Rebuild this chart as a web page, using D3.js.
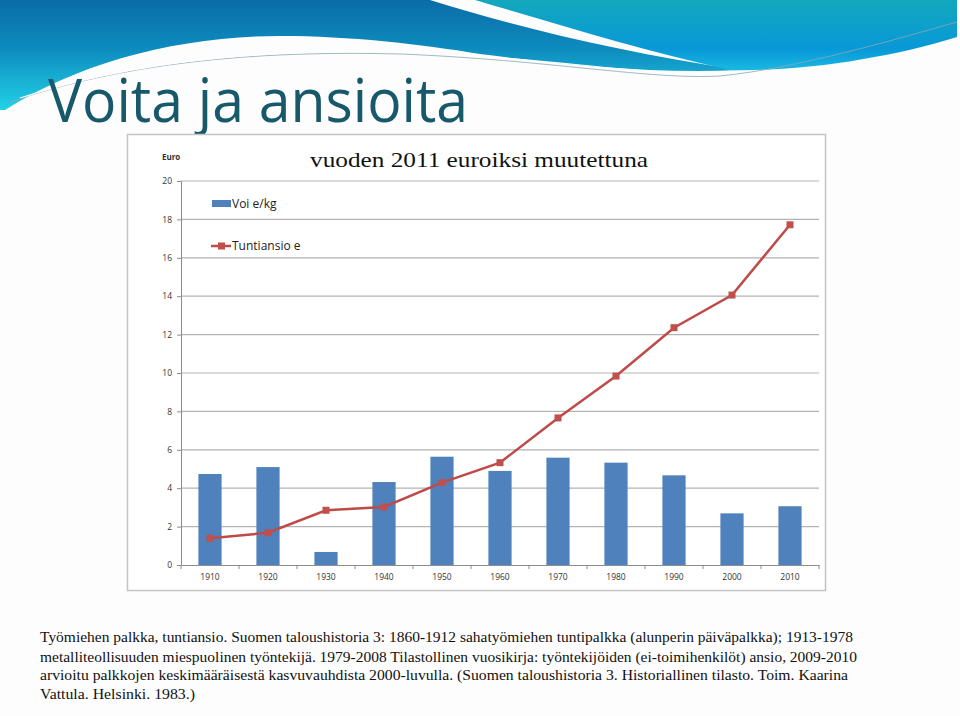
<!DOCTYPE html>
<html>
<head>
<meta charset="utf-8">
<script src="https://cdn.jsdelivr.net/npm/d3@7"></script>
<style>
  html, body { margin: 0; padding: 0; background: #fdfdfd; }
  svg { display: block; }
</style>
</head>
<body>
<svg id="chart" width="960" height="716"></svg>
<script>
const years = ["1910","1920","1930","1940","1950","1960","1970","1980","1990","2000","2010"];
const butter = [4.74, 5.10, 0.68, 4.32, 5.64, 4.90, 5.59, 5.33, 4.67, 2.69, 3.06];
const wage = [1.39, 1.68, 2.85, 3.02, 4.29, 5.33, 7.66, 9.84, 12.36, 14.06, 17.72];
const yTicks = [0, 2, 4, 6, 8, 10, 12, 14, 16, 18, 20];
const seriesNames = ["Voi e/kg", "Tuntiansio e"];
const titleText = "Voita ja ansioita";
const subtitleText = "vuoden 2011 euroiksi muutettuna";
const yUnit = "Euro";
const footLines = [
  "Työmiehen palkka, tuntiansio.  Suomen taloushistoria 3:  1860-1912 sahatyömiehen tuntipalkka (alunperin päiväpalkka); 1913-1978",
  "metalliteollisuuden miespuolinen työntekijä.  1979-2008 Tilastollinen vuosikirja: työntekijöiden (ei-toimihenkilöt) ansio, 2009-2010",
  "arvioitu palkkojen keskimääräisestä kasvuvauhdista 2000-luvulla. (Suomen taloushistoria 3. Historiallinen tilasto. Toim. Kaarina",
  "Vattula. Helsinki. 1983.)"
];

const svg = d3.select("#chart");
const defs = svg.append("defs");

// ---- Header decoration ----
const gA = defs.append("linearGradient").attr("id","gA").attr("x1",0).attr("y1",0).attr("x2",0).attr("y2",1);
gA.append("stop").attr("offset","0%").attr("stop-color","#0a6ca6");
gA.append("stop").attr("offset","45%").attr("stop-color","#0e8cbf");
gA.append("stop").attr("offset","100%").attr("stop-color","#22d2e6");
const gB = defs.append("linearGradient").attr("id","gB").attr("x1",0).attr("y1",0).attr("x2",0).attr("y2",1);
gB.append("stop").attr("offset","0%").attr("stop-color","#13a8bd");
gB.append("stop").attr("offset","70%").attr("stop-color","#0898d8");
gB.append("stop").attr("offset","100%").attr("stop-color","#1ab8e2");

svg.append("rect").attr("width",960).attr("height",716).attr("fill","#fdfdfd");
svg.append("path")
  .attr("d","M0,0 L430,0 C520,28 620,52 740,70 C650,74 560,64 480,54 C420,44 350,36 280,36 C180,36 80,62 5,110 L0,110 Z")
  .attr("fill","url(#gA)");
svg.append("path")
  .attr("d","M475,0 L957,0 L957,37 C890,58 800,72 730,70 C640,50 560,25 475,0 Z")
  .attr("fill","url(#gB)");
svg.append("path")
  .attr("d","M10,102 C120,64 250,50 400,54 C550,60 650,80 720,76 C800,68 900,38 957,22")
  .attr("fill","none").attr("stroke","#8aa9b3").attr("stroke-width",1).attr("opacity",0.8);
svg.append("path")
  .attr("d","M20,98 C130,62 260,48 410,52 C555,58 650,77 720,73")
  .attr("fill","none").attr("stroke","#ffffff").attr("stroke-width",1.2);

// ---- Title ----
svg.append("text").attr("x",48).attr("y",122)
  .attr("font-family","'Open Sans', sans-serif").attr("font-size",60)
  .attr("fill","#17586b").attr("textLength",420).attr("lengthAdjust","spacingAndGlyphs")
  .text(titleText);

// ---- Chart box ----
svg.append("rect").attr("x",127.5).attr("y",134.5).attr("width",698).attr("height",456)
  .attr("fill","#ffffff").attr("stroke","#c4c4c4").attr("stroke-width",1.5);

svg.append("text").attr("x",310).attr("y",167)
  .attr("font-family","'Liberation Serif', serif").attr("font-size",22)
  .attr("fill","#111").attr("textLength",338).attr("lengthAdjust","spacingAndGlyphs")
  .text(subtitleText);

// ---- Scales ----
const x = d3.scaleBand().domain(years).range([181, 819]).paddingInner(0.6).paddingOuter(0.3);
const y = d3.scaleLinear().domain([0, 20]).range([565, 181]);

// gridlines
svg.append("g").selectAll("line").data(yTicks.filter(d => d > 0)).join("line")
  .attr("x1",181).attr("x2",819)
  .attr("y1",d => y(d)).attr("y2",d => y(d))
  .attr("stroke","#b3b3b3").attr("stroke-width",1.2);

// y axis
const yAxis = d3.axisLeft(y).tickValues(yTicks).tickSize(4).tickPadding(5).tickFormat(d3.format("d"));
const gy = svg.append("g").attr("transform","translate(181,0)").call(yAxis);
gy.select(".domain").attr("stroke","#8c8c8c");
gy.selectAll(".tick line").attr("stroke","#8c8c8c");
gy.selectAll(".tick text").attr("font-family","'Open Sans', sans-serif").attr("font-size",8.5).attr("fill","#333");

svg.append("text").attr("x",162).attr("y",160)
  .attr("font-family","'Open Sans', sans-serif").attr("font-size",8).attr("font-weight","bold")
  .attr("fill","#333").text(yUnit);

// bars
svg.append("g").selectAll("rect").data(years).join("rect")
  .attr("x",d => x(d)).attr("width",x.bandwidth())
  .attr("y",(d,i) => y(butter[i])).attr("height",(d,i) => y(0) - y(butter[i]))
  .attr("fill","#4f81bd");

// x axis
const xAxis = d3.axisBottom(x).tickSize(0).tickPadding(9);
const gx = svg.append("g").attr("transform","translate(0,565)").call(xAxis);
gx.select(".domain").attr("stroke","#8c8c8c");
gx.selectAll(".tick text").attr("font-family","'Open Sans', sans-serif").attr("font-size",8.5).attr("fill","#333");
// category boundary tick marks
const bounds = d3.range(years.length + 1).map(i => 181 + i * x.step());
svg.append("g").selectAll("line").data(bounds).join("line")
  .attr("x1",d => d).attr("x2",d => d).attr("y1",565).attr("y2",569)
  .attr("stroke","#8c8c8c");

// line series
const cx = d => x(d) + x.bandwidth() / 2;
const line = d3.line().x((d,i) => cx(years[i])).y(d => y(d));
svg.append("path").datum(wage).attr("d",line)
  .attr("fill","none").attr("stroke","#be4b48").attr("stroke-width",2.5);
svg.append("g").selectAll("rect").data(wage).join("rect")
  .attr("x",(d,i) => cx(years[i]) - 3.5).attr("y",d => y(d) - 3.5)
  .attr("width",7).attr("height",7).attr("fill","#c0504d");

// legend
const lg = svg.append("g");
lg.append("rect").attr("x",212).attr("y",200).attr("width",19).attr("height",7).attr("fill","#4f81bd");
lg.append("text").attr("x",232).attr("y",208)
  .attr("font-family","'Open Sans', sans-serif").attr("font-size",12).attr("fill","#222").text(seriesNames[0]);
lg.append("line").attr("x1",211).attr("x2",231).attr("y1",246).attr("y2",246)
  .attr("stroke","#be4b48").attr("stroke-width",2.5);
lg.append("rect").attr("x",218).attr("y",242.5).attr("width",7).attr("height",7).attr("fill","#c0504d");
lg.append("text").attr("x",232).attr("y",250)
  .attr("font-family","'Open Sans', sans-serif").attr("font-size",12).attr("fill","#222").text(seriesNames[1]);

// footnote
const footLens = [813, 817, 808, 155];
const footY = [642, 661.5, 680, 699];
svg.append("g").selectAll("text").data(footLines).join("text")
  .attr("x",40).attr("y",(d,i) => footY[i])
  .attr("font-family","'Liberation Serif', serif").attr("font-size",15).attr("fill","#111")
  .attr("textLength",(d,i) => footLens[i]).attr("lengthAdjust","spacingAndGlyphs")
  .text(d => d);
</script>
</body>
</html>
